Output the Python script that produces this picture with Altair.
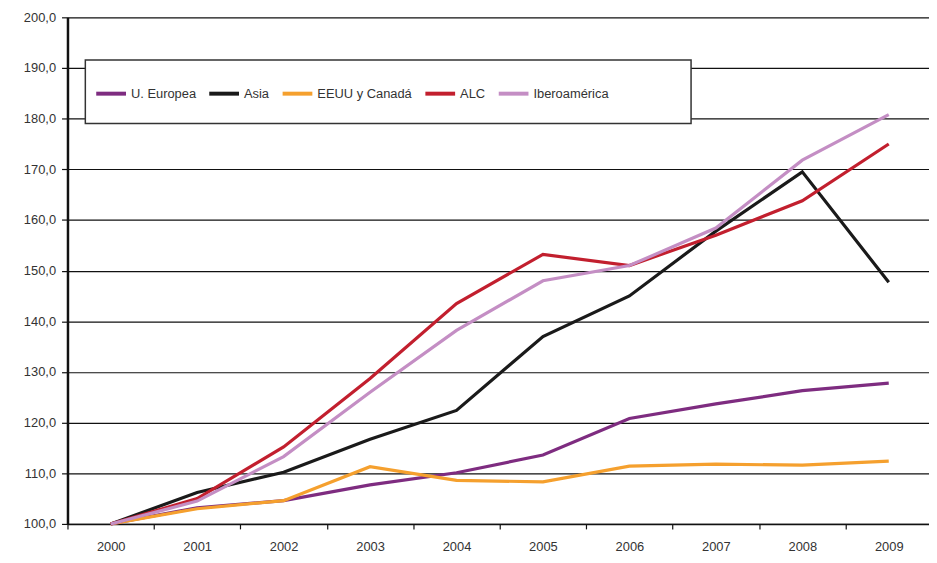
import altair as alt
import pandas as pd

years = ["2000", "2001", "2002", "2003", "2004", "2005", "2006", "2007", "2008", "2009"]
series = ["U. Europea", "Asia", "EEUU y Canadá", "ALC", "Iberoamérica"]
colors = ["#7E2C80", "#1A1A1A", "#F5A02E", "#C21F2E", "#C48EC4"]

ue = [100.0, 103.2, 104.6, 107.7, 110.1, 113.6, 120.8, 123.7, 126.3, 127.8]
asia = [100.0, 106.2, 110.2, 116.7, 122.4, 137.0, 145.0, 157.8, 169.5, 147.7]
eeuu = [100.0, 103.0, 104.6, 111.3, 108.6, 108.3, 111.4, 111.8, 111.6, 112.4]
alc = [100.0, 105.0, 115.2, 128.7, 143.5, 153.2, 151.0, 157.0, 163.8, 175.0]
ibero = [100.0, 104.5, 113.3, 126.0, 138.2, 148.0, 151.0, 158.4, 171.8, 180.8]

rows = []
for i, (name, vals) in enumerate(zip(series, [ue, asia, eeuu, alc, ibero])):
    for y, v in zip(years, vals):
        rows.append({"year": y, "value": v, "series": name, "order": i})
df = pd.DataFrame(rows)

font = "Liberation Sans"

box = alt.Chart(pd.DataFrame({"a": [0]})).mark_rect(
    fill="white", stroke="#333333", strokeWidth=1.5
).encode(
    x=alt.value(18), x2=alt.value(629), y=alt.value(43), y2=alt.value(107)
)

lines = alt.Chart(df).mark_line(strokeWidth=3.2).encode(
    x=alt.X("year:O", sort=years,
            scale=alt.Scale(paddingInner=0, paddingOuter=0, range=[0, 872]),
            axis=alt.Axis(title=None, labelAngle=0, tickBand="extent", domainColor="#111111",
                          domainWidth=1.5, tickColor="#111111", tickWidth=1.2, tickSize=5,
                          labelPadding=12, labelFont=font, labelFontSize=13, labelColor="#333333",
                          grid=False)),
    y=alt.Y("value:Q", scale=alt.Scale(domain=[100, 200], nice=False, zero=False),
            axis=alt.Axis(title=None, values=list(range(100, 201, 10)),
                          labelExpr="replace(format(datum.value, '.1f'), '.', ',')",
                          grid=True, gridColor="#111111", gridWidth=1.2,
                          domainColor="#111111", domainWidth=2.5, tickColor="#111111",
                          tickWidth=1.2, tickSize=6, labelPadding=6, labelFont=font,
                          labelFontSize=13, labelColor="#333333")),
    color=alt.Color("series:N", sort=series,
                    scale=alt.Scale(domain=series, range=colors),
                    legend=alt.Legend(title=None, orient="none", direction="horizontal",
                                      legendX=27, legendY=60, symbolType="stroke",
                                      symbolSize=900, symbolStrokeWidth=4,
                                      labelFont=font, labelFontSize=13, labelColor="#333333",
                                      columnPadding=5, labelOffset=3)),
    order=alt.Order("order:Q"),
    detail="series:N",
)

chart = alt.layer(box, lines).properties(
    width=867, height=511,
    autosize=alt.AutoSizeParams(type="none"),
    padding={"left": 60, "top": 7, "right": 2, "bottom": 37},
    background="white",
).configure_view(stroke=None)

chart.save("out.html", embed_options={"renderer": "svg", "actions": False})
